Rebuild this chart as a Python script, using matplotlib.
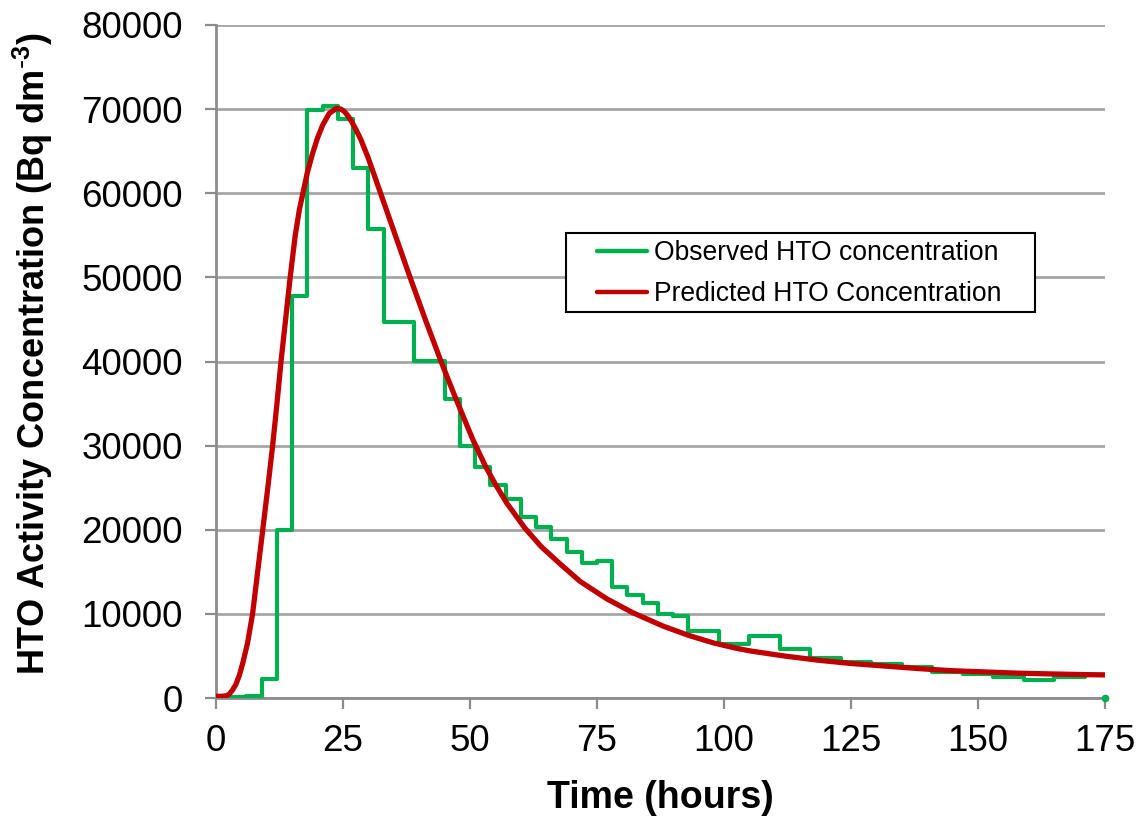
import matplotlib
matplotlib.use("Agg")
import matplotlib.pyplot as plt
from matplotlib import font_manager
from matplotlib.patches import Rectangle

# ---------------- data ----------------
obs_t = [0, 6, 9, 12, 15, 18, 21, 24, 27, 30, 33, 39, 45, 48, 51, 54, 57, 60,
         63, 66, 69, 72, 75, 78, 81, 84, 87, 90, 93, 99, 105, 111, 117, 123,
         129, 135, 141, 147, 153, 159, 165, 171]
obs_v = [100, 250, 2300, 20000, 47800, 69900, 70400, 68800, 63000, 55700,
         44700, 40100, 35600, 30000, 27400, 25300, 23600, 21500, 20300, 18900,
         17350, 16000, 16300, 13200, 12300, 11300, 10000, 9700, 8000, 6400,
         7400, 5800, 4700, 4300, 4000, 3700, 3100, 2800, 2450, 2150, 2450, 2750]
obs_end_t = 174
obs_last_t = [175]
obs_last_v = [0]

pred_t = [0, 1, 2, 2.6, 3.2, 3.9, 4.6, 5.25, 6.2, 7.2, 8.2, 9.2, 10.2, 11.15,
          12.0, 12.8, 13.7, 14.6, 15.6, 16.4, 17.1, 18.0, 19.0, 20.0, 21.0,
          22.3, 23.75, 24.6, 25.3, 26.1, 26.9, 27.7, 28.5, 29.9, 32.4, 35.3,
          38.2, 41.2, 44.3, 47.0, 50.5, 53.0, 55.0, 57.2, 60.8, 64.0, 68.0,
          71.7, 76.9, 82.0, 88.0, 93.0, 97.9, 102.5, 105.3, 111.8, 118.4, 125,
          131.6, 138.2, 144.7, 151.3, 157.9, 164.5, 171, 175]
pred_v = [200, 200, 260, 450, 900, 1600, 2700, 4100, 6500, 10000, 15000,
          20000, 25000, 30000, 35000, 40000, 45000, 50000, 55000, 58000, 60000,
          62500, 64700, 66600, 68100, 69500, 70100, 70000, 69700, 69100, 68300,
          67400, 66400, 64300, 60000, 55000, 50000, 45000, 40000, 35900, 30800,
          27600, 25400, 23200, 20200, 18000, 15800, 13850, 11800, 10150, 8550,
          7450, 6550, 5900, 5580, 5000, 4500, 4100, 3800, 3500, 3250, 3100,
          2950, 2860, 2780, 2750]

x_ticks = [0, 25, 50, 75, 100, 125, 150, 175]
y_ticks = [0, 10000, 20000, 30000, 40000, 50000, 60000, 70000, 80000]

labels = ["Observed HTO concentration", "Predicted HTO Concentration"]
x_label = "Time (hours)"
y_label = r"HTO Activity Concentration (Bq dm$^{\text{-}3}$)"

# ---------------- style ----------------
names = {f.name for f in font_manager.fontManager.ttflist}
base_font = "Liberation Sans" if "Liberation Sans" in names else "DejaVu Sans"

plt.rcParams["font.family"] = [base_font, "DejaVu Sans"]
plt.rcParams["mathtext.default"] = "regular"

GREEN = "#00B050"
RED = "#C00000"
GRID = "#A6A6A6"
AXIS = "#8C8C8C"

W, H = 1142, 816
fig = plt.figure(figsize=(W / 100, H / 100), dpi=100)
ax = fig.add_axes([216 / W, 1 - 698 / H, 889 / W, 673 / H])

ax.step(obs_t + [obs_end_t], obs_v + [obs_v[-1]], where="post",
        color=GREEN, lw=3.0, label=labels[0], zorder=3)
ax.plot(obs_last_t, obs_last_v, "o", color=GREEN, ms=4.5, zorder=3, clip_on=False)
ax.plot(pred_t, pred_v, color=RED, lw=3.8, label=labels[1], zorder=4,
        solid_capstyle="round", solid_joinstyle="round")

ax.set_xlim(0, 175)
ax.set_ylim(0, 80000)
ax.set_xticks(x_ticks)
ax.set_yticks(y_ticks)
ax.set_xticklabels([str(v) for v in x_ticks])
ax.set_yticklabels([str(v) for v in y_ticks])

ax.yaxis.grid(True, color=GRID, lw=2.0, zorder=0)
ax.set_axisbelow(True)
for s in ["top", "right"]:
    ax.spines[s].set_visible(False)
for s in ["left", "bottom"]:
    ax.spines[s].set_color(AXIS)
    ax.spines[s].set_linewidth(2.0)

ax.tick_params(axis="both", direction="out", length=8, width=1.6,
               color=AXIS, labelsize=26.5)
ax.tick_params(axis="y", pad=16)
ax.tick_params(axis="x", pad=11)

ax.set_xlabel(x_label, fontsize=27, fontweight="bold", labelpad=15)
ax.set_ylabel(y_label, fontsize=26, fontweight="bold")
ax.yaxis.set_label_coords(-0.181, 0.512)

# legend box drawn to the reference size, entries placed inside it
box = Rectangle((566 / W, 1 - 312 / H), (1035 - 566) / W, (312 - 233) / H,
                transform=fig.transFigure, facecolor="white",
                edgecolor="black", lw=1.5, zorder=5, clip_on=False)
ax.add_patch(box)
leg = ax.legend(loc="upper left", bbox_to_anchor=(597 / W, 1 - 240 / H),
                bbox_transform=fig.transFigure, fontsize=19.1, frameon=False,
                handlelength=1.9, handletextpad=0.25, borderpad=0.0,
                labelspacing=0.57, borderaxespad=0)
for h in leg.get_lines():
    h.set_linewidth(3.2)
    h.set_solid_capstyle("round")
leg.set_zorder(6)

fig.savefig("out.png", dpi=100)
